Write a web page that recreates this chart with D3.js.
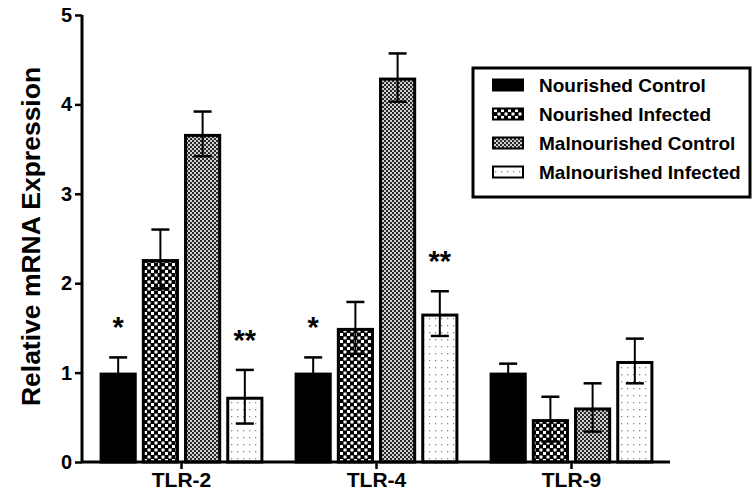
<!DOCTYPE html>
<html>
<head>
<meta charset="utf-8">
<script src="https://cdn.jsdelivr.net/npm/d3@7"></script>
<style>
  html, body { margin: 0; padding: 0; background: #fff; }
  svg { display: block; }
  text { font-family: "Liberation Sans", Arial, Helvetica, sans-serif; font-weight: bold; }
</style>
</head>
<body>
<svg id="chart" width="753" height="495"></svg>
<script>
// ---- data ----
const categories = ["TLR-2", "TLR-4", "TLR-9"];
const series = ["Nourished Control", "Nourished Infected", "Malnourished Control", "Malnourished Infected"];
const means = {
  "Nourished Control":     [1.00, 1.00, 1.00],
  "Nourished Infected":    [2.27, 1.50, 0.48],
  "Malnourished Control":  [3.67, 4.30, 0.61],
  "Malnourished Infected": [0.73, 1.66, 1.13]
};
const errors = {
  "Nourished Control":     [0.17, 0.17, 0.10],
  "Nourished Infected":    [0.33, 0.29, 0.25],
  "Malnourished Control":  [0.25, 0.27, 0.27],
  "Malnourished Infected": [0.30, 0.25, 0.25]
};
const significance = {
  "Nourished Control":     ["*", "*", ""],
  "Nourished Infected":    ["", "", ""],
  "Malnourished Control":  ["", "", ""],
  "Malnourished Infected": ["**", "**", ""]
};
const yTicks = [0, 1, 2, 3, 4, 5];
const yLabel = "Relative mRNA Expression";

// ---- layout ----
const svg = d3.select("#chart");
const defs = svg.append("defs");

// patterns
const pNI = defs.append("pattern").attr("id", "pNI").attr("patternUnits", "userSpaceOnUse")
  .attr("width", 7).attr("height", 7);
pNI.append("rect").attr("width", 7).attr("height", 7).attr("fill", "#000");
pNI.append("rect").attr("x", 0.5).attr("y", 0.5).attr("width", 3).attr("height", 3).attr("fill", "#fff");
pNI.append("rect").attr("x", 4).attr("y", 4).attr("width", 3).attr("height", 3).attr("fill", "#fff");

const pMC = defs.append("pattern").attr("id", "pMC").attr("patternUnits", "userSpaceOnUse")
  .attr("width", 4).attr("height", 4);
pMC.append("rect").attr("width", 4).attr("height", 4).attr("fill", "#cfcfcf");
pMC.append("rect").attr("x", 0).attr("y", 0).attr("width", 2).attr("height", 2).attr("fill", "#2a2a2a");
pMC.append("rect").attr("x", 2).attr("y", 2).attr("width", 2).attr("height", 2).attr("fill", "#2a2a2a");

const pMI = defs.append("pattern").attr("id", "pMI").attr("patternUnits", "userSpaceOnUse")
  .attr("width", 6).attr("height", 7);
pMI.append("rect").attr("width", 6).attr("height", 7).attr("fill", "#fff");
pMI.append("rect").attr("x", 3).attr("y", 3).attr("width", 1.3).attr("height", 1.3).attr("fill", "#888");

const fills = {
  "Nourished Control": "#000",
  "Nourished Infected": "url(#pNI)",
  "Malnourished Control": "url(#pMC)",
  "Malnourished Infected": "url(#pMI)"
};

const x0 = d3.scaleBand().domain(categories).range([84, 669]).paddingInner(0.16).paddingOuter(0.08);
const x1 = d3.scaleBand().domain(series).range([0, x0.bandwidth()]).paddingInner(0.12);
const y = d3.scaleLinear().domain([0, 5]).range([462, 15]);

// bars
const rows = [];
categories.forEach((c, i) => series.forEach(s => rows.push({
  c, s, v: means[s][i], e: errors[s][i], sig: significance[s][i]
})));

const g = svg.append("g");
g.selectAll("rect.bar").data(rows).join("rect")
  .attr("class", "bar")
  .attr("x", d => x0(d.c) + x1(d.s) + 1.5)
  .attr("y", d => y(d.v) + 1.5)
  .attr("width", x1.bandwidth() - 3)
  .attr("height", d => y(0) - y(d.v) - 1.5)
  .attr("fill", d => fills[d.s])
  .attr("stroke", "#000")
  .attr("stroke-width", 3);

// error bars
const eb = g.selectAll("g.eb").data(rows).join("g").attr("class", "eb");
const cx = d => x0(d.c) + x1(d.s) + x1.bandwidth() / 2;
eb.append("line")
  .attr("x1", cx).attr("x2", cx)
  .attr("y1", d => y(d.v + d.e)).attr("y2", d => y(d.v - d.e))
  .attr("stroke", "#000").attr("stroke-width", 2);
eb.append("line")
  .attr("x1", d => cx(d) - 9).attr("x2", d => cx(d) + 9)
  .attr("y1", d => y(d.v + d.e)).attr("y2", d => y(d.v + d.e))
  .attr("stroke", "#000").attr("stroke-width", 2.5);
eb.append("line")
  .attr("x1", d => cx(d) - 9).attr("x2", d => cx(d) + 9)
  .attr("y1", d => y(d.v - d.e)).attr("y2", d => y(d.v - d.e))
  .attr("stroke", "#000").attr("stroke-width", 2.5);

// significance stars
g.selectAll("text.sig").data(rows.filter(d => d.sig)).join("text")
  .attr("class", "sig")
  .attr("x", cx)
  .attr("y", d => y(d.v + d.e) - 36 + 16)
  .attr("text-anchor", "middle")
  .attr("font-size", 29)
  .attr("font-weight", "normal")
  .text(d => d.sig);

// y axis
const yAxis = svg.append("g").attr("transform", "translate(82,0)")
  .call(d3.axisLeft(y).tickValues(yTicks).tickFormat(d3.format("d")).tickSize(7).tickPadding(3));
yAxis.select(".domain").attr("stroke-width", 3).attr("d", `M0,${y(5)}V${y(0)}`);
yAxis.selectAll(".tick line").attr("stroke-width", 2.5);
yAxis.selectAll(".tick text").attr("font-size", 20).attr("font-family", "Liberation Sans, Arial, sans-serif").attr("font-weight", "bold").attr("fill", "#000");

// x axis
const xAxis = svg.append("g").attr("transform", `translate(0,${y(0)})`)
  .call(d3.axisBottom(x0).tickSize(7).tickPadding(3));
xAxis.select(".domain").attr("stroke-width", 3).attr("d", `M81,0H670`);
xAxis.selectAll(".tick line").attr("stroke-width", 2.5);
xAxis.selectAll(".tick text").attr("font-size", 21).attr("font-family", "Liberation Sans, Arial, sans-serif").attr("font-weight", "bold").attr("fill", "#000");

// y label
svg.append("text")
  .attr("transform", `translate(40,${(y(0) + y(5)) / 2 - 2}) rotate(-90)`)
  .attr("text-anchor", "middle")
  .attr("font-size", 26.5)
  .text(yLabel);

// legend
const lg = svg.append("g");
lg.append("rect").attr("x", 473).attr("y", 68).attr("width", 277).attr("height", 129)
  .attr("fill", "#fff").attr("stroke", "#000").attr("stroke-width", 3);
const ly = d3.scalePoint().domain(series).range([85, 172]);
lg.selectAll("rect.sw").data(series).join("rect")
  .attr("class", "sw")
  .attr("x", 493).attr("y", d => ly(d) - 5.5)
  .attr("width", 30).attr("height", 11)
  .attr("fill", d => fills[d]).attr("stroke", "#000").attr("stroke-width", 2);
lg.selectAll("text.lt").data(series).join("text")
  .attr("class", "lt")
  .attr("x", 539).attr("y", d => ly(d) + 7)
  .attr("font-size", 19)
  .text(d => d);
</script>
</body>
</html>
